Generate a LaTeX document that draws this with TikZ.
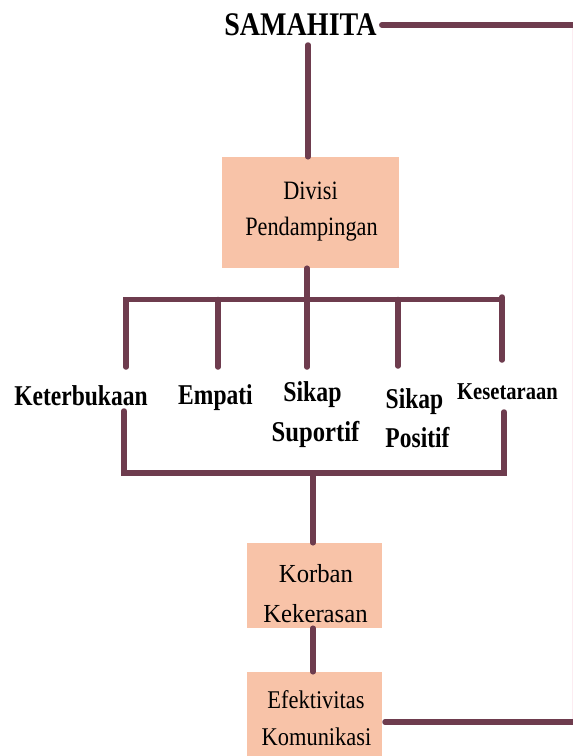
\documentclass[tikz,border=0pt]{standalone}
\usepackage{fontspec}
\setmainfont{Liberation Serif}
\usepackage{graphicx}
\newcommand{\hsq}[2]{\scalebox{#1}[1]{#2}}
\definecolor{linec}{RGB}{110,60,78}
\definecolor{boxc}{RGB}{248,195,168}
\definecolor{faintc}{RGB}{252,236,241}
\begin{document}
\begin{tikzpicture}[x=1pt,y=-1pt,
  conn/.style={draw=linec,line width=5.5pt,line cap=round},
  boxnode/.style={fill=boxc,draw=none,inner sep=0pt},
  lbl/.style={inner sep=0pt,anchor=base,font=\fontsize{28.7}{30}\selectfont\bfseries},
  reg/.style={inner sep=0pt,anchor=base,font=\fontsize{26}{28}\selectfont}]
\useasboundingbox (0,0) rectangle (573,756);
\fill[white] (0,0) rectangle (573,756);

% boxes
\node[boxnode,minimum width=177pt,minimum height=111pt] (divbox) at (310.5,212.5) {};
\node[boxnode,minimum width=135pt,minimum height=85pt] (korbox) at (314.5,585.5) {};
\node[boxnode,minimum width=135pt,minimum height=84pt] (efbox) at (314.5,714) {};

% texts
\node[inner sep=0pt,anchor=base,font=\fontsize{33}{36}\selectfont\bfseries] (sam) at (300.5,35) {\hsq{0.85}{SAMAHITA}};
\node[reg,font=\fontsize{26.5}{28}\selectfont] (div1) at (310.5,199) {\hsq{0.84}{Divisi}};
\node[reg,font=\fontsize{26.5}{28}\selectfont] (div2) at (311.5,235) {\hsq{0.84}{Pendampingan}};
\node[reg] (kor1) at (316,582) {\hsq{0.95}{Korban}};
\node[reg] (kor2) at (315.5,622) {\hsq{0.95}{Kekerasan}};
\node[reg,font=\fontsize{25.5}{28}\selectfont] (ef1) at (316,708) {\hsq{0.88}{Efektivitas}};
\node[reg,font=\fontsize{25.5}{28}\selectfont] (ef2) at (316.5,745) {\hsq{0.88}{Komunikasi}};

\node[lbl] (ket) at (81,405) {\hsq{0.82}{Keterbukaan}};
\node[lbl] (emp) at (215.5,404) {\hsq{0.82}{Empati}};
\node[lbl] (sik1) at (312.5,401) {\hsq{0.83}{Sikap}};
\node[lbl] (sup) at (315.5,441) {\hsq{0.86}{Suportif}};
\node[lbl] (sik2) at (414.5,408) {\hsq{0.82}{Sikap}};
\node[lbl] (pos) at (417.5,447) {\hsq{0.82}{Positif}};
\node[lbl,font=\fontsize{24.2}{26}\selectfont\bfseries] (kes) at (507.5,399) {\hsq{0.85}{Kesetaraan}};

% coordinates
\coordinate (rtop) at (577,25);
\coordinate (samdown) at (308,45);
\coordinate (bl) at (126,299.5);
\coordinate (br) at (501,299.5);
\coordinate (t1) at (126,367);
\coordinate (t2a) at (218,299.5);
\coordinate (t2) at (218,367);
\coordinate (t3) at (307,367);
\coordinate (t4a) at (398,299.5);
\coordinate (t4) at (398,366);
\coordinate (t5a) at (502,297);
\coordinate (t5) at (502,360);
\coordinate (u1) at (124,411);
\coordinate (u2) at (124,473);
\coordinate (u3) at (504,473);
\coordinate (u4) at (504,412);
\coordinate (um) at (313,473);
\coordinate (rbot) at (577,722);
\coordinate (efout) at (385,722);
\coordinate (fa) at (572,25);
\coordinate (fb) at (572,722);

% connectors
\draw[faintc,line width=1pt] (fa) -- (fb);
\draw[conn] ([xshift=5pt]sam.east |- rtop) -- (rtop);
\draw[conn] (samdown) -- (samdown |- divbox.north);
\draw[conn] (divbox.south -| t3) -- (t3);
\draw[conn] (t1) -- (bl) -- (br);
\draw[conn] (t2a) -- (t2);
\draw[conn] (t4a) -- (t4);
\draw[conn] (t5a) -- (t5);
\draw[conn] (u1) -- (u2) -- (u3) -- (u4);
\draw[conn] (um) -- (um |- korbox.north);
\draw[conn] (korbox.south -| um) -- (efbox.north -| um);
\draw[conn] (efout) -- (rbot);
\end{tikzpicture}
\end{document}
